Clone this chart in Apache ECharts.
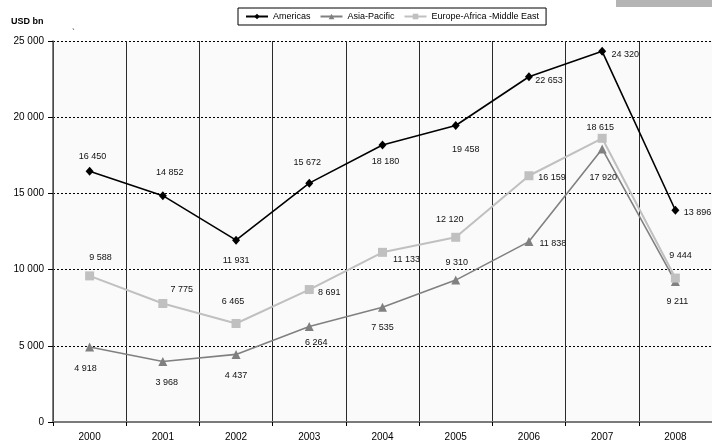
<!DOCTYPE html>
<html>
<head>
<meta charset="utf-8">
<script src="https://cdn.jsdelivr.net/npm/echarts@6/dist/echarts.min.js"></script>
<style>
html, body { margin: 0; padding: 0; background: #fff; }
#chart { width: 712px; height: 444px; }
</style>
</head>
<body>
<div id="chart"></div>
<script>
// values
const years = ['2000', '2001', '2002', '2003', '2004', '2005', '2006', '2007', '2008'];
const americas = [16450, 14852, 11931, 15672, 18180, 19458, 22653, 24320, 13896];
const asiaPacific = [4918, 3968, 4437, 6264, 7535, 9310, 11838, 17920, 9211];
const emea = [9588, 7775, 6465, 8691, 11133, 12120, 16159, 18615, 9444];
const yMin = 0, yMax = 25000, yStep = 5000;

// where each data label sits relative to its point (px)
const americasLbl = [[3, -15], [7, -23], [0, 20], [-2, -21], [3, 17], [10, 24], [20, 4], [23, 3], [22, 2]];
const asiaLbl = [[-4, 21], [4, 21], [0, 21], [7, 16], [0, 20], [1, -18], [24, 2], [1, 29], [2, 20]];
const emeaLbl = [[11, -18], [19, -14], [-3, -22], [20, 3], [24, 7], [-6, -18], [23, 2], [-2, -11], [5, -23]];

const fmt = v => String(v).replace(/\B(?=(\d{3})+(?!\d))/g, ' ');

function makeSeries(name, vals, offs, color, symbol, size, width) {
    return {
        name: name,
        type: 'line',
        data: vals.map((v, i) => ({ value: v, label: { offset: offs[i] } })),
        symbol: symbol,
        symbolSize: size,
        lineStyle: { color: color, width: width },
        itemStyle: { color: color },
        label: {
            show: true,
            position: 'inside',
            formatter: p => fmt(p.value),
            fontSize: 9,
            fontFamily: 'Liberation Sans, Arial',
            color: '#111'
        }
    };
}

const myChart = echarts.init(document.getElementById('chart'));
const option = {
    animation: false,
    backgroundColor: '#fff',
    textStyle: { fontFamily: 'Liberation Sans, Arial' },
    title: {
        text: 'USD bn',
        left: 11,
        top: 17,
        padding: 0,
        textStyle: { fontSize: 9, fontWeight: 'bold', color: '#000' }
    },
    graphic: [
        { type: 'rect', shape: { x: 616, y: 0, width: 96, height: 7 }, style: { fill: '#b4b4b4' } },
        { type: 'text', left: 72, top: 28, style: { text: '`', fontSize: 9, fill: '#333' } }
    ],
    legend: {
        top: 8,
        left: 238,
        padding: [4, 7],
        itemGap: 9,
        itemWidth: 22,
        itemHeight: 7,
        borderColor: '#000',
        borderWidth: 1,
        backgroundColor: '#fff',
        textStyle: { fontSize: 9, color: '#000' },
        data: ['Americas', 'Asia-Pacific', 'Europe-Africa -Middle East']
    },
    grid: {
        left: 53,
        right: -3,
        top: 41,
        bottom: 22,
        show: true,
        backgroundColor: '#fafafa',
        borderWidth: 0
    },
    xAxis: {
        type: 'category',
        data: years,
        boundaryGap: true,
        axisLine: { lineStyle: { color: '#7a7a7a', width: 2 } },
        axisTick: { show: true, length: 4, lineStyle: { color: '#000' } },
        axisLabel: { fontSize: 10, color: '#000', margin: 10 },
        splitLine: { show: true, lineStyle: { color: '#2a2a2a', width: 1 } }
    },
    yAxis: {
        type: 'value',
        min: yMin,
        max: yMax,
        interval: yStep,
        axisLine: { show: true, lineStyle: { color: '#555', width: 1.5 } },
        axisTick: { show: true, length: 5, lineStyle: { color: '#000' } },
        axisLabel: { fontSize: 10, color: '#000', margin: 9, formatter: fmt },
        splitLine: { show: true, lineStyle: { color: '#000', width: 1, type: [2, 2] } }
    },
    series: [
        makeSeries('Americas', americas, americasLbl, '#000000', 'diamond', [8, 9], 1.6),
        makeSeries('Asia-Pacific', asiaPacific, asiaLbl, '#808080', 'triangle', 9, 1.6),
        makeSeries('Europe-Africa -Middle East', emea, emeaLbl, '#c0c0c0', 'rect', 9, 2)
    ]
};
myChart.setOption(option);
</script>
</body>
</html>
